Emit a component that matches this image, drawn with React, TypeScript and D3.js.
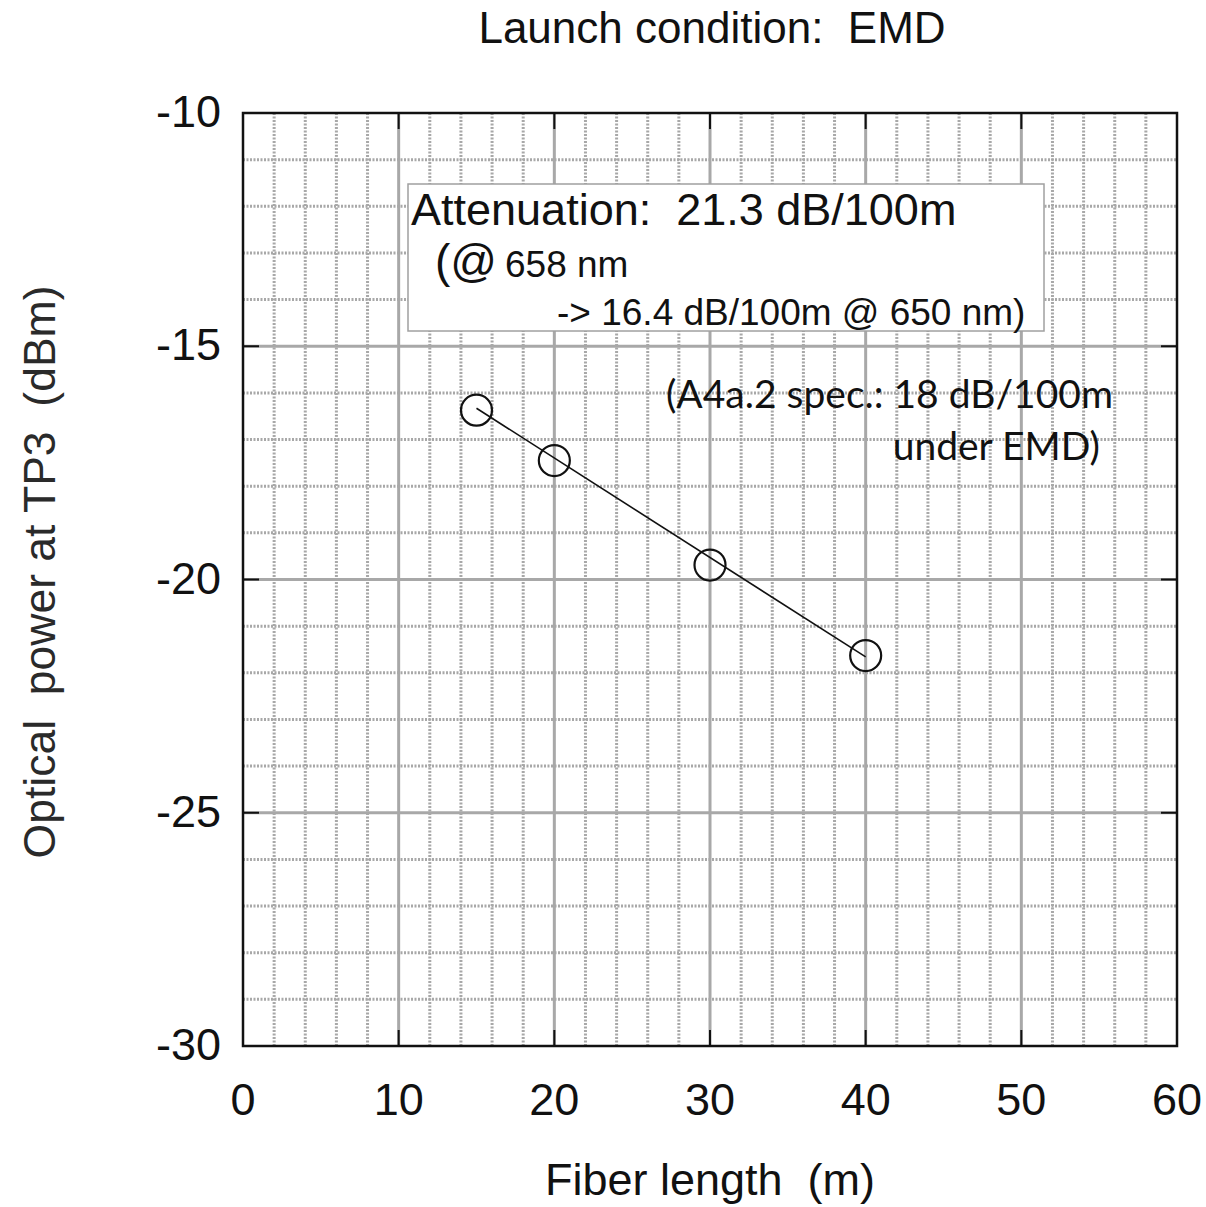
import React from "react";
import * as d3 from "d3";

const fiberLength = [15, 20, 30, 40];
const opticalPower = [-16.37, -17.45, -19.69, -21.63];
const fitX = [15, 40];
const fitY = [-16.33, -21.66];
const xTicks = [0, 10, 20, 30, 40, 50, 60];
const yTicks = [-30, -25, -20, -15, -10];
const boxLines = ["Attenuation:  21.3 dB/100m", "(@", "658 nm", "-> 16.4 dB/100m @ 650 nm)"];
const specLines = ["(A4a.2 spec.: 18 dB/100m", "under EMD)"];

const W = 1206, H = 1207;
const L = 243, R = 1177, T = 113, B = 1046;

export default function App() {
  const x = d3.scaleLinear().domain([0, 60]).range([L, R]);
  const y = d3.scaleLinear().domain([-30, -10]).range([B, T]);
  const minorX = d3.range(0, 61, 2).filter((v) => v % 10 !== 0);
  const majorX = [10, 20, 30, 40, 50];
  const minorY = d3.range(-30, -9, 1).filter((v) => v % 5 !== 0);
  const majorY = [-25, -20, -15];
  const line = d3.line<number>().x((d, i) => x(fitX[i])).y((d) => y(d));
  const font = "'Liberation Sans', Arial, sans-serif";
  const spec = "Lato, 'Open Sans', sans-serif";
  const grid = "#a8a8a8";
  const pre = { whiteSpace: "pre" as const };
  return (
    <svg width={W} height={H} style={{ position: "absolute", left: 0, top: 0, background: "#fff" }} fontFamily={font}>
      <rect x={0} y={0} width={W} height={H} fill="#fff" />
      {minorX.map((v) => (
        <line key={"mx" + v} x1={x(v)} x2={x(v)} y1={T} y2={B} stroke={grid} strokeWidth={3} strokeDasharray="2,1.5" />
      ))}
      {minorY.map((v) => (
        <line key={"my" + v} y1={y(v)} y2={y(v)} x1={L} x2={R} stroke={grid} strokeWidth={3} strokeDasharray="2,1.5" />
      ))}
      {majorX.map((v) => (
        <line key={"Mx" + v} x1={x(v)} x2={x(v)} y1={T} y2={B} stroke={grid} strokeWidth={3} />
      ))}
      {majorY.map((v) => (
        <line key={"My" + v} y1={y(v)} y2={y(v)} x1={L} x2={R} stroke={grid} strokeWidth={3} />
      ))}
      {xTicks.map((v) => (
        <g key={"tx" + v}>
          <line x1={x(v)} x2={x(v)} y1={B} y2={B - 16} stroke="#111" strokeWidth={2} />
          <line x1={x(v)} x2={x(v)} y1={T} y2={T + 16} stroke="#111" strokeWidth={2} />
          <text x={x(v)} y={1115} textAnchor="middle" fontSize={45} fill="#111">{v}</text>
        </g>
      ))}
      {yTicks.map((v) => (
        <g key={"ty" + v}>
          <line x1={L} x2={L + 16} y1={y(v)} y2={y(v)} stroke="#111" strokeWidth={2} />
          <line x1={R} x2={R - 16} y1={y(v)} y2={y(v)} stroke="#111" strokeWidth={2} />
          <text x={221} y={y(v) + 14} textAnchor="end" fontSize={45} fill="#111">{v}</text>
        </g>
      ))}
      <rect x={L} y={T} width={R - L} height={B - T} fill="none" stroke="#111" strokeWidth={2.5} />
      <path d={line(fitY) || ""} fill="none" stroke="#111" strokeWidth={1.6} />
      {fiberLength.map((v, i) => (
        <circle key={"c" + i} cx={x(v)} cy={y(opticalPower[i])} r={15.5} fill="none" stroke="#111" strokeWidth={2.2} />
      ))}
      <rect x={408} y={184} width={636} height={147} fill="#fff" stroke="#a0a0a0" strokeWidth={1.5} />
      <text x={411} y={225} fontSize={45} fill="#111" style={pre}>{boxLines[0]}</text>
      <text x={435} y={277} fontSize={46} fill="#111" style={pre}>
        {boxLines[1]}
        <tspan fontSize={37} dx={8}>{boxLines[2]}</tspan>
      </text>
      <text x={557} y={325} fontSize={37} fill="#111" style={pre}>{boxLines[3]}</text>
      <text x={1113} y={408} textAnchor="end" fontSize={39} fontFamily={spec} fill="#111" style={pre}>{specLines[0]}</text>
      <text x={1100} y={460} textAnchor="end" fontSize={39} fontFamily={spec} fill="#111" style={pre}>{specLines[1]}</text>
      <text x={712} y={43} textAnchor="middle" fontSize={44} fill="#111" style={pre}>Launch condition:  EMD</text>
      <text x={710} y={1195} textAnchor="middle" fontSize={45} fill="#111" style={pre}>Fiber length  (m)</text>
      <text transform="translate(55,572) rotate(-90)" textAnchor="middle" fontSize={44.5} fill="#2a2a2a" style={pre}>
        {"Optical  power at TP3  (dBm)"}
      </text>
    </svg>
  );
}
